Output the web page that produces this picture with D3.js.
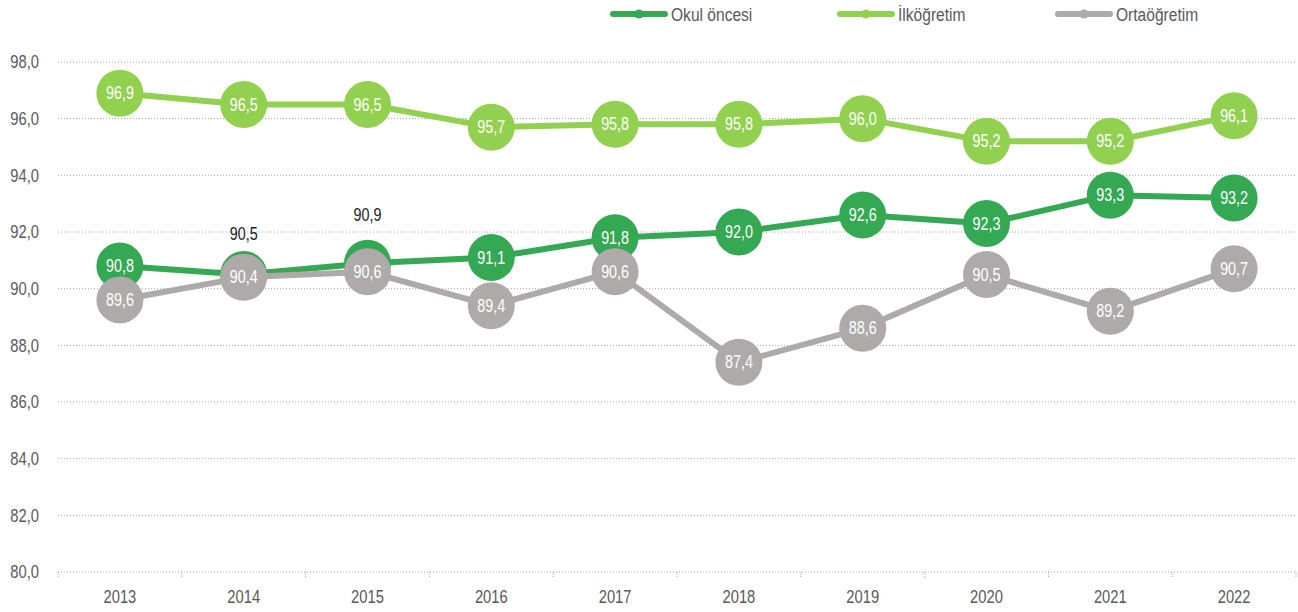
<!DOCTYPE html>
<html>
<head>
<meta charset="utf-8">
<script src="https://cdn.jsdelivr.net/npm/d3@7"></script>
<style>
  body { margin: 0; background: #fff; }
  svg text { font-family: "Liberation Sans", Arial, sans-serif; }
</style>
</head>
<body>
<svg id="chart" width="1298" height="612"></svg>
<script>
var years = ["2013", "2014", "2015", "2016", "2017", "2018", "2019", "2020", "2021", "2022"];
var okulOncesi = [90.8, 90.5, 90.9, 91.1, 91.8, 92.0, 92.6, 92.3, 93.3, 93.2];
var ilkogretim = [96.9, 96.5, 96.5, 95.7, 95.8, 95.8, 96.0, 95.2, 95.2, 96.1];
var ortaogretim = [89.6, 90.4, 90.6, 89.4, 90.6, 87.4, 88.6, 90.5, 89.2, 90.7];
var yTicks = [80, 82, 84, 86, 88, 90, 92, 94, 96, 98];

(function () {
    "use strict";

    var svg = d3.select("#chart");
    var left = 58, right = 1296, top = 62, bottom = 572;
    var narrow = 0.82; // no condensed font installed, squeeze instead
    var fmt = function (v) { return v.toFixed(1).replace(".", ","); };
    var place = function (px, py) {
        return "translate(" + px + "," + py + ") scale(" + narrow + ",1)";
    };

    var series = [
        {name: "Okul öncesi", values: okulOncesi, color: "#34a853", legendX: 610},
        {name: "İlköğretim", values: ilkogretim, color: "#92d050", legendX: 837},
        {name: "Ortaöğretim", values: ortaogretim, color: "#aeaaaa", legendX: 1055}
    ];

    var x = d3.scaleBand().domain(years).range([left, right]);
    var y = d3.scaleLinear().domain([80, 98]).range([bottom, top]);
    var cx = function (i) { return x(years[i]) + x.bandwidth() / 2; };

    // grid
    svg.append("g").selectAll("line")
        .data(yTicks)
        .enter().append("line")
        .attr("x1", left).attr("x2", right)
        .attr("y1", function (d) { return y(d); })
        .attr("y2", function (d) { return y(d); })
        .attr("stroke", "#a6a6a6")
        .attr("stroke-width", 1)
        .attr("stroke-dasharray", "1,2");

    // y labels
    svg.append("g").selectAll("text")
        .data(yTicks)
        .enter().append("text")
        .attr("transform", function (d) { return place(39, y(d)); })
        .attr("dy", ".35em")
        .attr("text-anchor", "end")
        .attr("font-size", 18)
        .attr("fill", "#595959")
        .text(fmt);

    // x ticks (dotted)
    var bounds = years.map(function (d) { return x(d); }).concat([right]);
    svg.append("g").selectAll("line")
        .data(bounds)
        .enter().append("line")
        .attr("x1", function (d) { return d; }).attr("x2", function (d) { return d; })
        .attr("y1", bottom).attr("y2", bottom + 5)
        .attr("stroke", "#a6a6a6")
        .attr("stroke-dasharray", "1,1");

    svg.append("g").selectAll("text")
        .data(years)
        .enter().append("text")
        .attr("transform", function (d, i) { return place(cx(i), 603); })
        .attr("text-anchor", "middle")
        .attr("font-size", 18)
        .attr("fill", "#595959")
        .text(function (d) { return d; });

    var line = d3.line()
        .x(function (d, i) { return cx(i); })
        .y(function (d) { return y(d); });

    series.forEach(function (s) {
        var g = svg.append("g");
        g.append("path")
            .datum(s.values)
            .attr("d", line)
            .attr("fill", "none")
            .attr("stroke", s.color)
            .attr("stroke-width", 6)
            .attr("stroke-linejoin", "round");

        g.selectAll("circle")
            .data(s.values)
            .enter().append("circle")
            .attr("cx", function (d, i) { return cx(i); })
            .attr("cy", function (d) { return y(d); })
            .attr("r", 23.5)
            .attr("fill", s.color);
    });

    // labels drawn after all markers; two okul öncesi labels sit above
    var above = {1: 41, 2: 48};
    series.forEach(function (s, si) {
        svg.append("g").selectAll("text")
            .data(s.values)
            .enter().append("text")
            .attr("transform", function (d, i) {
                var off = (si === 0 && above[i]) ? above[i] : 0;
                return place(cx(i), y(d) - off);
            })
            .attr("dy", ".35em")
            .attr("text-anchor", "middle")
            .attr("font-size", 17.5)
            .attr("fill", function (d, i) {
                return (si === 0 && above[i]) ? "#1a1a1a" : "#ffffff";
            })
            .text(fmt);
    });

    // legend
    var leg = svg.append("g").selectAll("g")
        .data(series)
        .enter().append("g")
        .attr("transform", function (d) { return "translate(" + d.legendX + ",14)"; });

    leg.append("line")
        .attr("x1", 3).attr("x2", 55)
        .attr("y1", 0).attr("y2", 0)
        .attr("stroke", function (d) { return d.color; })
        .attr("stroke-width", 6)
        .attr("stroke-linecap", "round");

    leg.append("circle")
        .attr("cx", 29).attr("r", 4.5)
        .attr("fill", function (d) { return d.color; });

    leg.append("text")
        .attr("transform", place(61, 0))
        .attr("dy", ".35em")
        .attr("font-size", 19)
        .attr("fill", "#595959")
        .text(function (d) { return d.name; });
}());
</script>
</body>
</html>
